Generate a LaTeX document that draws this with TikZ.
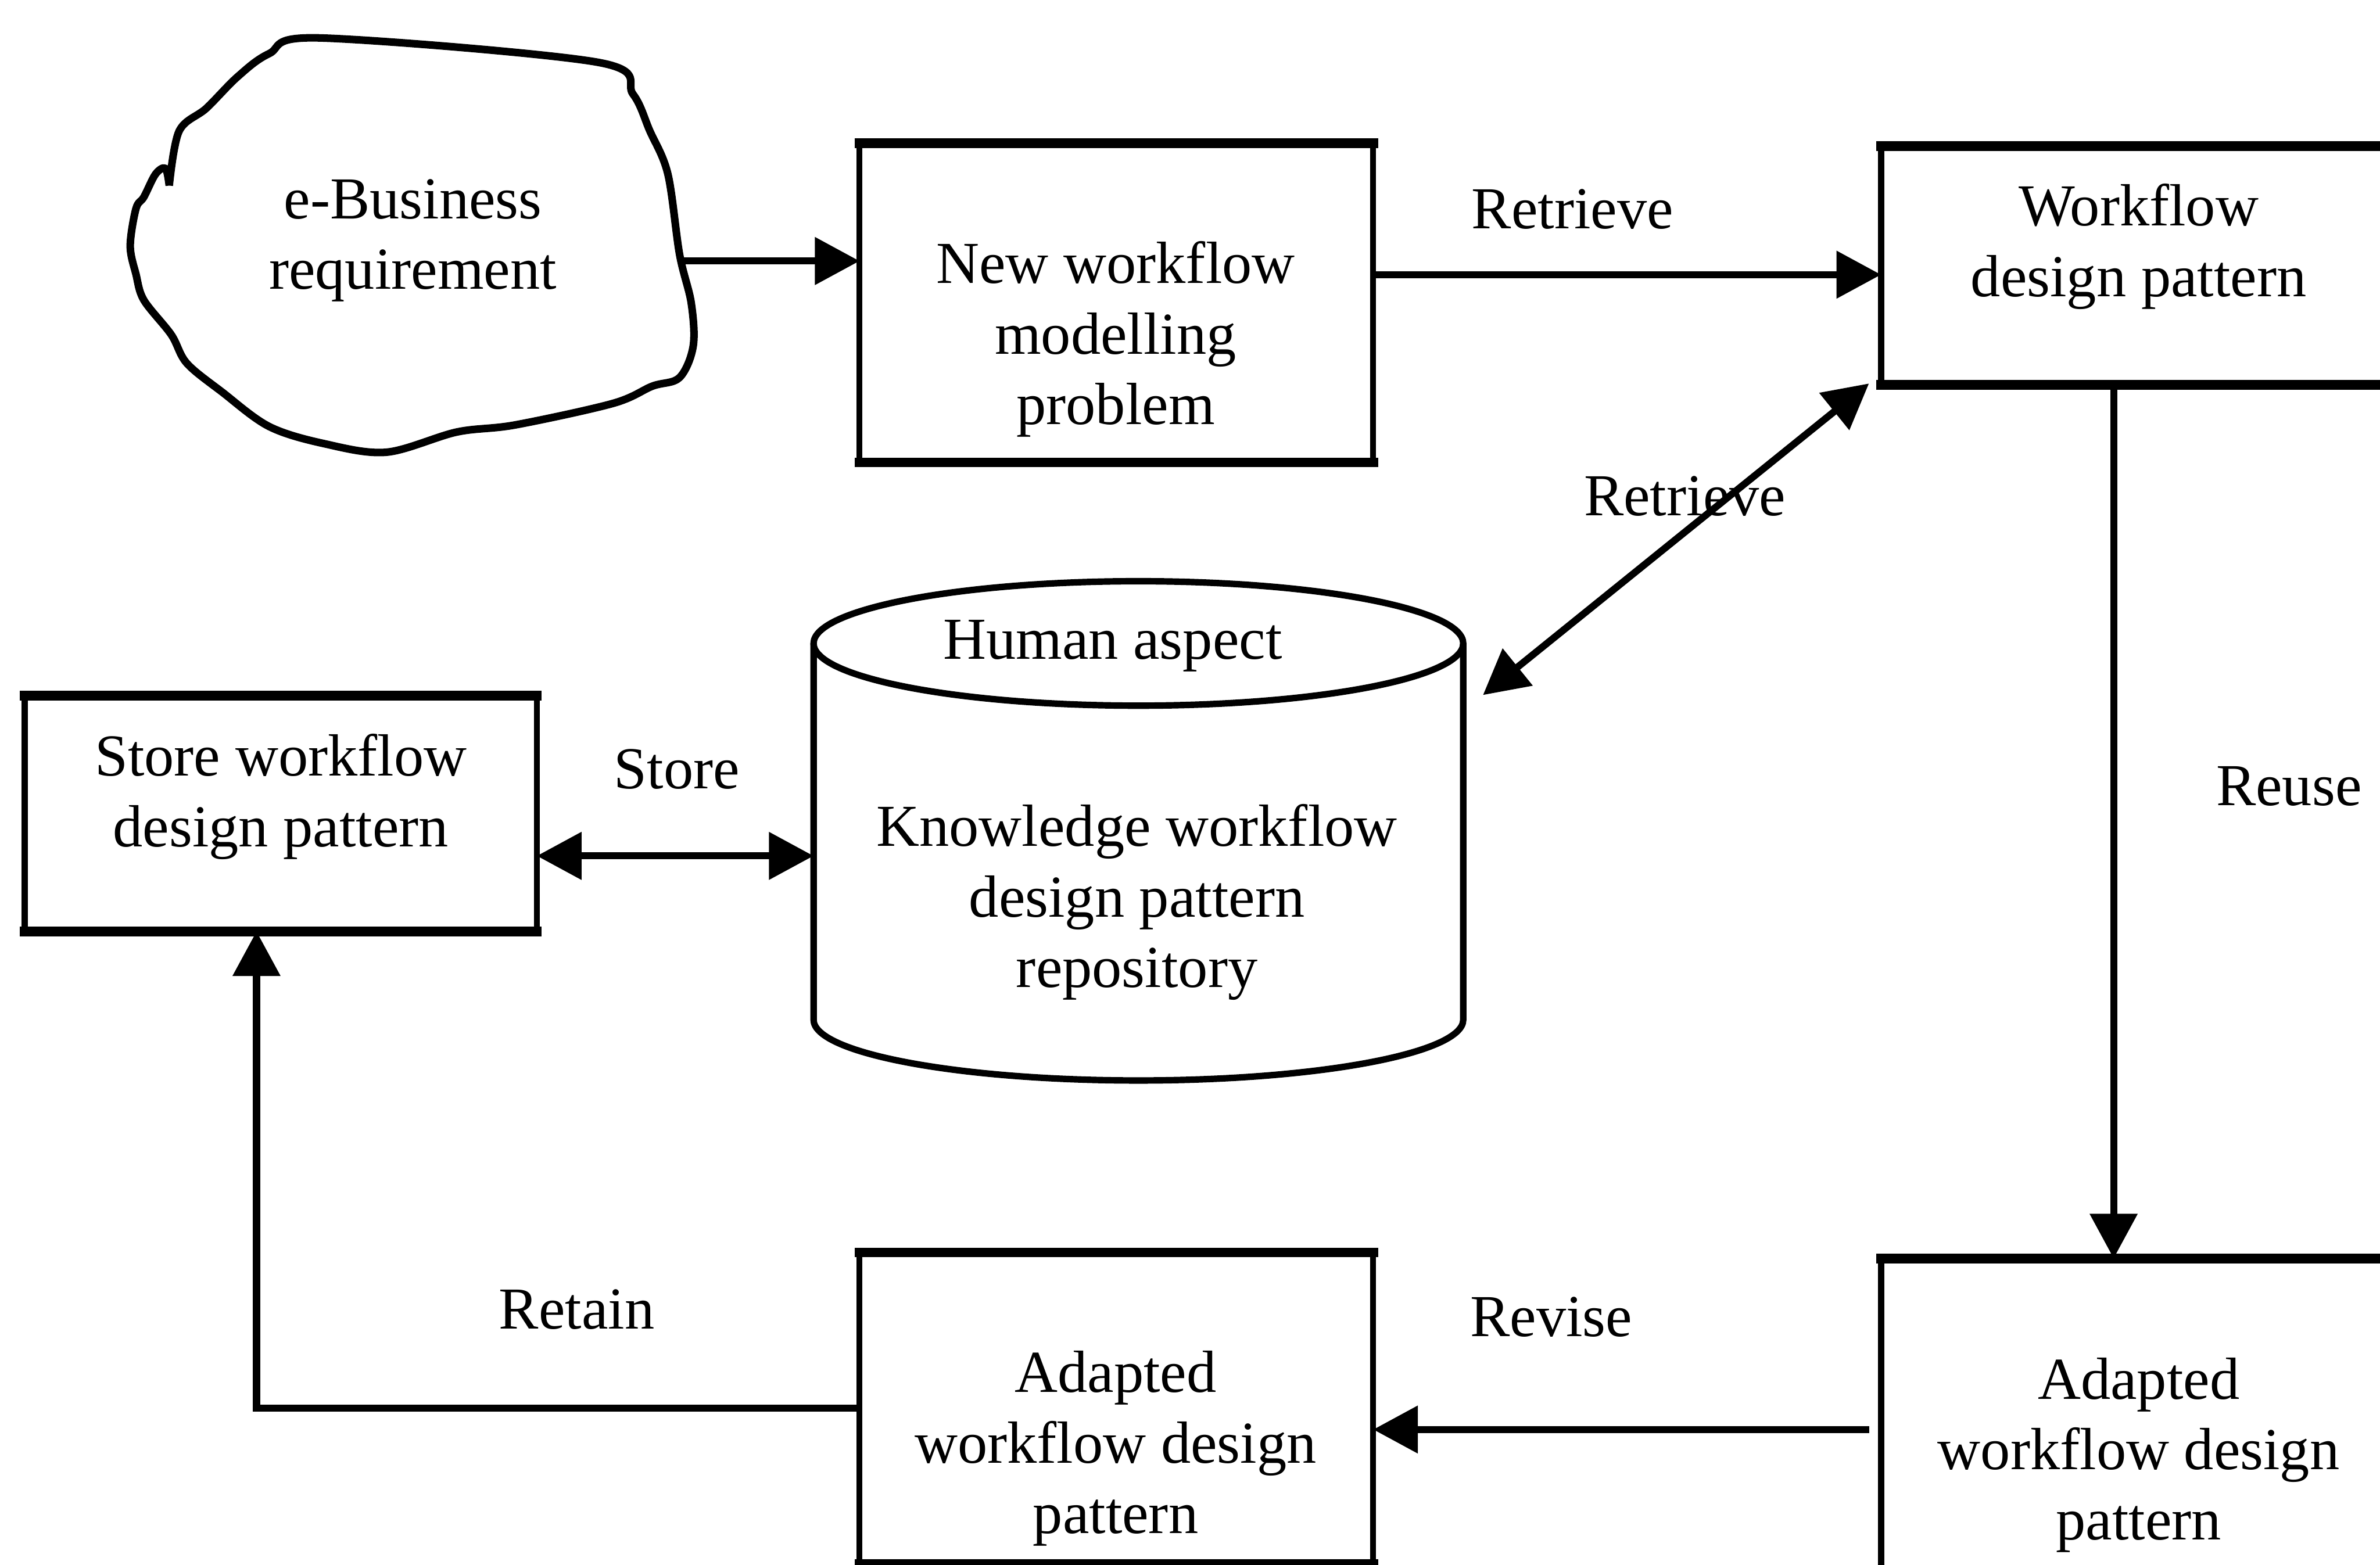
\documentclass[tikz,border=0pt]{standalone}
\usepackage{fontspec}
\setmainfont{Liberation Serif}
\usetikzlibrary{arrows.meta,calc}

% frame of a process box: thin sides, heavier top and bottom rules
\newcommand\procframe[1]{%
  \draw[boxside] (#1.north west) -- (#1.south west) (#1.north east) -- (#1.south east);
  \draw[boxrule] (#1.north west) -- (#1.north east) (#1.south west) -- (#1.south east);}

\begin{document}
\begin{tikzpicture}[x=0.009856cm, y=-0.009856cm,
  every node/.style={font=\fontsize{11}{13}\selectfont, align=center, inner sep=0pt},
  procbox/.style={rectangle, minimum width=3.3215cm},
  boxside/.style={line width=1.1pt},
  boxrule/.style={line width=1.8pt, line cap=rect},
  arr/.style={line width=1.3pt, -{Triangle[length=0.29cm, width=0.30cm]}},
  darr/.style={line width=1.3pt, {Triangle[length=0.29cm, width=0.30cm]}-{Triangle[length=0.29cm, width=0.30cm]}},
  outline/.style={line width=1.2pt, line join=round}]

\clip (0,0) rectangle (1568,1031);
\fill[white] (0,0) rectangle (1568,1031);

% requirement cloud
\draw[outline, line width=1.4pt] plot[smooth, tension=0.55] coordinates {
  (111.5,122.3) (118,86.4) (136,71.3) (156.6,50.5) (177.2,35.4) (210.7,25)
  (393.6,41) (417,62) (428,86) (440,114.7) (447.7,167.6) (455.4,199.7)
  (456.7,228) (447.7,248.8) (429.7,254.5) (403.9,265.8) (339.5,280) (300.9,284.7)
  (254.5,298) (213.3,292.3) (177.2,281) (146.3,258.3) (123.1,239.4) (112.8,220.5)
  (94.8,197.8) (89.6,180.8) (85.8,162) (89.6,137.4) (94.8,129.8) (102.5,114.7)
  (109,111) (111.5,122.3)};
\node (req) at (272,158.5) {e-Business\\requirement};
\coordinate (reqR) at (447.7,172);

% process boxes
\node[procbox, minimum height=2.060cm] (new) at (735.5,199.5) {};
\node[procbox, minimum height=1.5375cm] (wfp) at (1408.5,175) {};
\node[procbox, minimum width=3.3116cm, minimum height=1.518cm] (store) at (185,536) {};
\node[procbox, minimum height=2.0106cm] (ada1) at (735.5,928) {};
\node[procbox, minimum height=2.07cm] (ada2) at (1408.5,935) {};
\procframe{new}
\procframe{wfp}
\procframe{store}
\procframe{ada1}
\procframe{ada2}

\node (newtxt) at (735,223.5) {New workflow\\modelling\\problem};
\node (wfptxt) at (1409,162.5) {Workflow\\design pattern};
\node (storetxt) at (185,525) {Store workflow\\design pattern};
\node (ada1txt) at (735,954.5) {Adapted\\workflow design\\pattern};
\node (ada2txt) at (1409,959) {Adapted\\workflow design\\pattern};

% repository cylinder
\draw[outline] (750,424) ellipse [x radius=214, y radius=41];
\draw[outline] (536,424) -- (536,672) arc[start angle=180, end angle=0, x radius=214, y radius=40] -- (964,424);
\node (human) at (733,425.5) {Human aspect};
\node (repo) at (749,594.5) {Knowledge workflow\\design pattern\\repository};
\coordinate (repoL) at (536,564);
\coordinate (repoR) at (977,458);

% connectors
\draw[arr] (reqR) -- (reqR -| new.west);
\draw[arr] ($(new.east |- wfp.west)+(0,6)$) -- ($(wfp.west)+(0,6)$);
\draw[darr] (repoR) -- ($(wfp.south west)+(-8,-1)$);
\draw[darr] (store.east |- repoL) -- (repoL);
\coordinate (reuseTop) at ($(wfp.south)+(-16,0)$);
\draw[arr] (reuseTop) -- (reuseTop |- ada2.north);
\coordinate (reviseR) at ($(ada2.west)+(-8,7)$);
\draw[arr] (reviseR) -- (reviseR -| ada1.east);
\coordinate (retainX) at ($(store.south)+(-16,0)$);
\draw[arr] (ada1.west) -- (ada1.west -| retainX) -- (retainX);

% connector labels
\node (lretrieve) at (1036,138) {Retrieve};
\node (lretrieve2) at (1110,327) {Retrieve};
\node (lstore) at (446,507) {Store};
\node (lreuse) at (1508,518) {Reuse};
\node (lrevise) at (1022,868) {Revise};
\node (lretain) at (380,863) {Retain};
\end{tikzpicture}
\end{document}
